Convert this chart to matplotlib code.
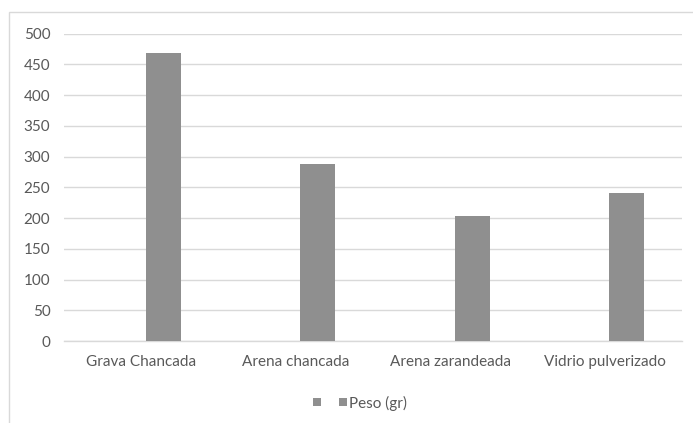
import matplotlib
matplotlib.use('Agg')
import matplotlib.pyplot as plt
import matplotlib.patches as mpatches
import numpy as np

plt.rcParams['font.family'] = ['Lato', 'DejaVu Sans']

# Materials and measured weight
categories = ["Grava Chancada", "Arena chancada", "Arena zarandeada", "Vidrio pulverizado"]
blank_series = [0, 0, 0, 0]
peso = [468, 288, 204, 240]
y_ticks = list(range(0, 501, 50))

bar_color = '#8f8f8f'
grid_color = '#d9d9d9'
text_color = '#595959'

fig = plt.figure(figsize=(6.93, 4.23), dpi=100)
ax = fig.add_axes([64.3 / 693, 1 - 341 / 423, (681.7 - 64.3) / 693, (341 - 33.7) / 423])

x = np.arange(len(categories))
bar_width = 0.227
offset = 0.143

h_blank = ax.bar(x - offset, blank_series, width=bar_width, color=bar_color)
h_peso = ax.bar(x + offset, peso, width=bar_width, color=bar_color, zorder=3)

ax.set_xlim(-0.5, len(categories) - 0.5)
ax.set_ylim(0, 500)
ax.set_yticks(y_ticks)
ax.set_xticks(x)
ax.set_xticklabels(categories)
ax.tick_params(axis='both', length=0, labelsize=11, colors=text_color)
ax.tick_params(axis='y', pad=10)
ax.tick_params(axis='x', pad=10)

ax.grid(axis='y', color=grid_color, linewidth=1.0, zorder=0)
ax.set_axisbelow(True)
for side in ['top', 'right', 'left']:
    ax.spines[side].set_visible(False)
ax.spines['bottom'].set_color(grid_color)
ax.spines['bottom'].set_linewidth(1.0)

# chart frame
frame = mpatches.Rectangle((9 / 693, -0.1), 1.0, 1 - 12.3 / 423 + 0.1,
                           transform=fig.transFigure, fill=False,
                           edgecolor=grid_color, linewidth=1.0)
fig.patches.append(frame)

fig.legend([h_blank, h_peso], ["", "Peso (gr)"], loc='center',
           bbox_to_anchor=(360 / 693, 1 - 403 / 423), ncol=2, frameon=False,
           fontsize=11, labelcolor=text_color, handlelength=0.5, handleheight=0.5,
           handletextpad=0.1, columnspacing=1.1, borderpad=0)

fig.savefig('out.png', dpi=100)
